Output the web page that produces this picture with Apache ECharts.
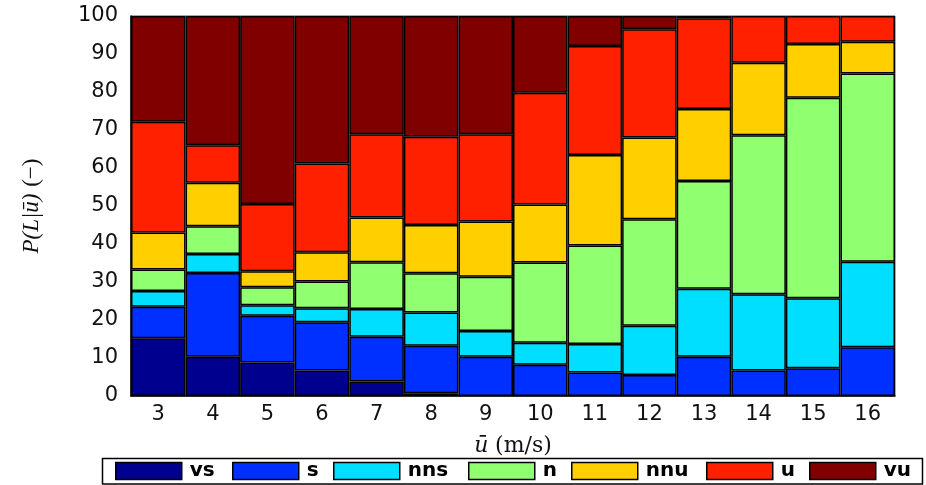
<!DOCTYPE html>
<html><head><meta charset="utf-8">
<script src="https://cdn.jsdelivr.net/npm/echarts@6/dist/echarts.min.js"></script>
<style>html,body{margin:0;padding:0;background:#fff}#c{width:926px;height:485px}</style>
</head><body><div id="c"></div>
<script>
const categories = ['3','4','5','6','7','8','9','10','11','12','13','14','15','16'];
const seriesNames = ['vs','s','nns','n','nnu','u','vu'];
const vs  = [15.2,10.3,8.8,6.7,3.8,0.7,0,0,0,0,0,0,0,0];
const s   = [8.3,22.1,12.3,12.7,11.8,12.5,10.3,8.2,6.2,5.5,10.3,6.7,7.3,12.8];
const nns = [4.1,5.0,2.8,3.7,7.3,8.8,6.8,5.8,7.5,13.0,17.9,20.1,18.4,22.5];
const n   = [5.7,7.3,4.7,7.0,12.3,10.3,14.3,21.1,25.9,28.0,28.4,41.8,52.8,49.6];
const nnu = [9.7,11.4,4.2,7.7,11.8,12.7,14.5,15.3,23.8,21.5,18.9,19.1,14.1,8.3];
const u   = [29.2,9.9,17.7,23.4,21.9,23.2,23.0,29.4,28.7,28.5,23.9,12.3,7.4,6.8];
const vu  = [27.8,34.0,49.5,38.8,31.1,31.8,31.1,20.2,7.9,3.5,0.6,0,0,0];
const yTicks = [0,10,20,30,40,50,60,70,80,90,100];

const values = [vs,s,nns,n,nnu,u,vu];
const colors = ['#00008F','#0030FF','#00DFFF','#90FF70','#FFCF00','#FF2000','#800000'];
const legendLeft = [115,232,333,468,571,706,809];

const chart = echarts.init(document.getElementById('c'));
const series = seriesNames.map((name,i)=>({
  name, type:'bar', stack:'total',
  data: values[i].map(v=> v===0 ? '-' : v),
  barWidth:'100%', barCategoryGap:'0%',
  itemStyle:{color:colors[i], borderColor:'#000', borderWidth:1.5},
  emphasis:{disabled:true}
}));
const legends = seriesNames.map((name,i)=>({
  data:[name], left:legendLeft[i], top:461, padding:0, icon:'rect',
  itemWidth:66, itemHeight:17, selectedMode:false,
  itemStyle:{borderColor:'#000', borderWidth:1.5},
  textStyle:{fontFamily:'DejaVu Sans', fontWeight:'bold', fontSize:20, color:'#000', padding:[0,0,0,3]}
}));
chart.setOption({
  animation:false,
  backgroundColor:'#fff',
  grid:{left:131, right:31, top:16, bottom:89, show:true, borderColor:'#555', borderWidth:1, backgroundColor:'transparent'},
  xAxis:{type:'category', data:categories,
    axisLine:{show:true, lineStyle:{color:'#000', width:1.5}}, axisTick:{show:false},
    axisLabel:{fontFamily:'DejaVu Sans', fontSize:21, color:'#111', margin:8},
    name:'{i|ū}  {r|(m/s)}', nameLocation:'middle', nameGap:39,
    nameTextStyle:{rich:{i:{fontFamily:'DejaVu Serif', fontStyle:'italic', fontSize:22, color:'#111'},
                         r:{fontFamily:'DejaVu Serif', fontSize:22, color:'#111'}}}
  },
  yAxis:{type:'value', min:yTicks[0], max:yTicks[yTicks.length-1], interval:yTicks[1]-yTicks[0],
    axisLine:{show:true, lineStyle:{color:'#000', width:1.5}}, axisTick:{show:false}, splitLine:{show:false},
    axisLabel:{fontFamily:'DejaVu Sans', fontSize:21, color:'#111', margin:13},
    name:'{i|P(L|ū)}  {r|(−)}', nameLocation:'middle', nameGap:88, nameRotate:90,
    nameTextStyle:{rich:{i:{fontFamily:'Liberation Serif', fontStyle:'italic', fontSize:23, color:'#111'},
                         r:{fontFamily:'Liberation Serif', fontSize:23, color:'#111'}}}
  },
  legend:legends,
  graphic:[{type:'rect', shape:{x:102.5, y:458.5, width:820, height:25.5}, style:{fill:'none', stroke:'#000', lineWidth:1.5}, z:-1}],
  series
});
</script></body></html>
